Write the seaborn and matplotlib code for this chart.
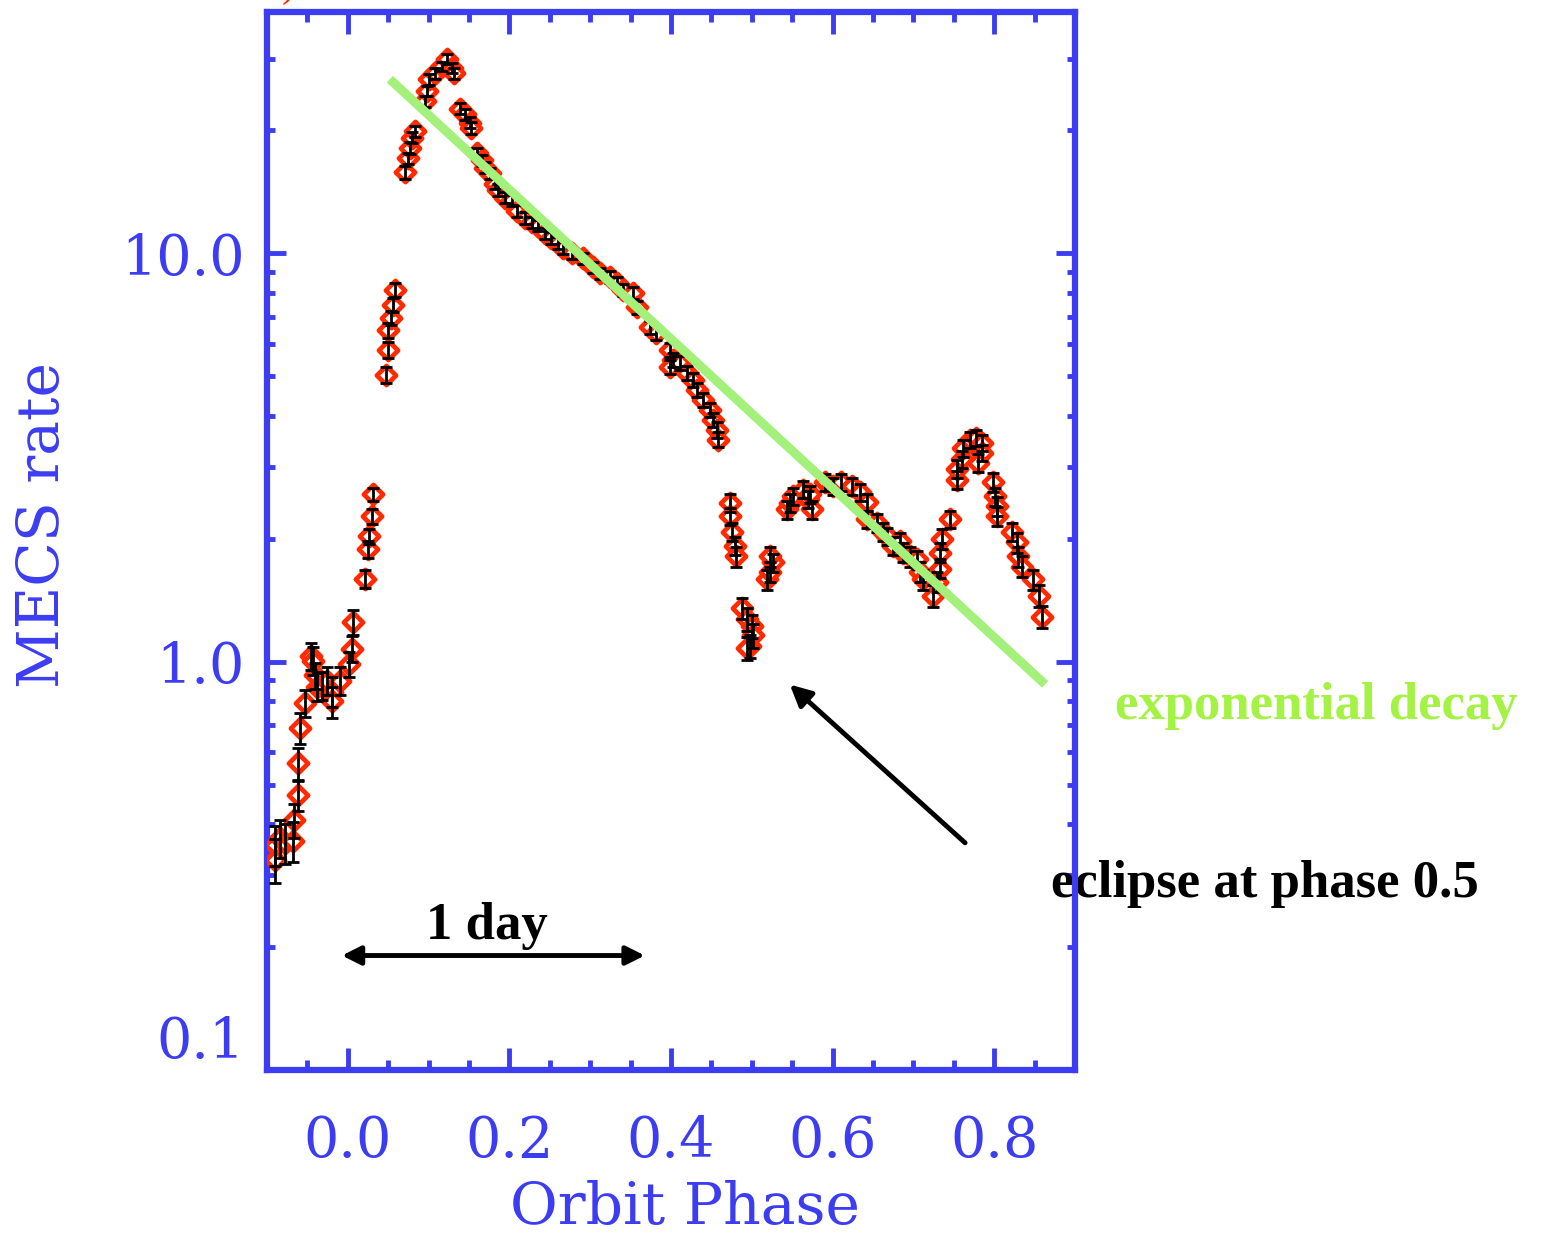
import numpy as np
import pandas as pd
import matplotlib
matplotlib.use("Agg")
import matplotlib.pyplot as plt
import seaborn as sns
from matplotlib.ticker import FixedLocator, LogLocator, MultipleLocator, NullFormatter, FixedFormatter

# ---- light curve: orbital phase vs MECS count rate ----
phase_pre = [-0.090, -0.090, -0.084, -0.078, -0.068, -0.066, -0.062, -0.062, -0.059, -0.053,
             -0.045, -0.043, -0.041, -0.038, -0.032, -0.026, -0.020, -0.019, -0.010, 0.002,
             0.005, 0.007, 0.021, 0.025, 0.026, 0.030, 0.031]
rate_pre = [0.356, 0.327, 0.370, 0.360, 0.364, 0.409, 0.471, 0.564, 0.687, 0.790,
            1.034, 1.006, 0.925, 0.869, 0.874, 0.899, 0.845, 0.799, 0.899, 0.989,
            1.076, 1.252, 1.593, 1.886, 2.029, 2.270, 2.570]
err_pre = [0.04, 0.04, 0.04, 0.04, 0.04, 0.04, 0.04, 0.05, 0.06, 0.06,
           0.08, 0.08, 0.07, 0.07, 0.07, 0.07, 0.07, 0.07, 0.07, 0.07,
           0.08, 0.09, 0.08, 0.09, 0.09, 0.10, 0.10]

phase_flare = [0.047, 0.050, 0.050, 0.053, 0.056, 0.058,
               0.071, 0.074, 0.077, 0.080, 0.083,
               0.095, 0.098, 0.101, 0.108, 0.116, 0.123, 0.129, 0.132,
               0.139, 0.145, 0.151, 0.153,
               0.160, 0.166, 0.170, 0.176, 0.182, 0.186, 0.194, 0.203, 0.210, 0.219,
               0.228, 0.235, 0.244, 0.252, 0.260, 0.266, 0.278, 0.291, 0.303, 0.312,
               0.324, 0.333, 0.340, 0.353, 0.358, 0.374, 0.382, 0.399, 0.402, 0.399,
               0.411, 0.420, 0.427, 0.432, 0.439, 0.448, 0.452, 0.457, 0.458]
rate_flare = [5.04, 5.80, 6.49, 6.94, 7.47, 8.13,
              15.8, 17.1, 18.1, 19.2, 19.9,
              23.6, 25.0, 26.7, 27.6, 28.7, 29.9, 28.4, 27.6,
              22.6, 21.9, 20.9, 20.3,
              17.6, 16.9, 16.2, 15.7, 14.8, 14.3, 13.7, 13.5, 12.7, 12.2,
              11.9, 11.7, 11.2, 10.9, 10.6, 10.3, 10.0, 9.72, 9.24, 8.93,
              8.74, 8.45, 8.13, 7.98, 7.38, 6.60, 6.38, 5.80, 5.48, 5.27,
              5.39, 5.10, 4.90, 4.63, 4.38, 4.14, 3.91, 3.70, 3.50]
err_flare = [0.22, 0.25, 0.28, 0.28, 0.30, 0.32,
             0.55, 0.55, 0.60, 0.60, 0.65,
             0.75, 0.75, 0.80, 0.80, 0.80, 0.85, 0.80, 0.80,
             0.70, 0.70, 0.65, 0.65,
             0.55, 0.55, 0.50, 0.50, 0.45, 0.45, 0.45, 0.42, 0.40, 0.40,
             0.38, 0.38, 0.36, 0.35, 0.34, 0.34, 0.33, 0.32, 0.30, 0.30,
             0.30, 0.28, 0.28, 0.27, 0.26, 0.24, 0.24, 0.22, 0.22, 0.21,
             0.21, 0.20, 0.20, 0.19, 0.18, 0.17, 0.16, 0.16, 0.15]

phase_late = [0.473, 0.473, 0.476, 0.479, 0.481,
              0.488, 0.494, 0.500, 0.501, 0.498, 0.494,
              0.519, 0.522, 0.526, 0.522,
              0.543, 0.547, 0.551, 0.563, 0.569, 0.575, 0.572,
              0.590, 0.600, 0.611, 0.624, 0.634, 0.642, 0.642, 0.655, 0.662, 0.667,
              0.675, 0.683, 0.687, 0.696, 0.704, 0.708, 0.712, 0.724,
              0.729, 0.733, 0.733, 0.736, 0.745,
              0.754, 0.754, 0.760, 0.761, 0.770, 0.778, 0.785, 0.785, 0.780,
              0.798, 0.801, 0.803, 0.804, 0.822, 0.828, 0.829, 0.834, 0.848, 0.856, 0.859]
rate_late = [2.45, 2.27, 2.08, 1.92, 1.81,
             1.35, 1.27, 1.22, 1.16, 1.09, 1.08,
             1.59, 1.66, 1.75, 1.81,
             2.36, 2.45, 2.54, 2.64, 2.50, 2.36, 2.57,
             2.75, 2.69, 2.75, 2.69, 2.60, 2.46, 2.23, 2.19, 2.08, 2.03,
             1.92, 1.97, 1.85, 1.81, 1.78, 1.66, 1.59, 1.45,
             1.57, 1.69, 1.85, 2.00, 2.23,
             2.79, 2.96, 3.13, 3.34, 3.50, 3.54, 3.44, 3.25, 3.07,
             2.75, 2.54, 2.40, 2.27, 2.08, 1.96, 1.81, 1.71, 1.59, 1.45, 1.29]
err_late = [0.12, 0.11, 0.11, 0.10, 0.10,
            0.08, 0.08, 0.08, 0.08, 0.07, 0.07,
            0.09, 0.09, 0.09, 0.10,
            0.12, 0.12, 0.12, 0.13, 0.12, 0.12, 0.12,
            0.13, 0.13, 0.13, 0.13, 0.12, 0.12, 0.11, 0.11, 0.11, 0.10,
            0.10, 0.10, 0.10, 0.10, 0.09, 0.09, 0.09, 0.09,
            0.09, 0.09, 0.10, 0.11, 0.11,
            0.14, 0.15, 0.15, 0.16, 0.16, 0.16, 0.16, 0.15, 0.15,
            0.14, 0.13, 0.13, 0.12, 0.11, 0.11, 0.10, 0.10, 0.09, 0.09, 0.08]

# exponential decay fit (straight line in log space)
fit_phase = [0.052, 0.863]
fit_rate = [26.7, 0.88]

x_ticks = [0.0, 0.2, 0.4, 0.6, 0.8]
x_tick_labels = ["0.0", "0.2", "0.4", "0.6", "0.8"]
y_ticks = [0.1, 1.0, 10.0]
y_tick_labels = ["0.1", "1.0", "10.0"]

BLUE = "#3c3cf2"
RED = "#ff2a00"
GREEN_LINE = "#a3f07a"
GREEN_TEXT = "#a4f244"

df = pd.DataFrame({
    "phase": phase_pre + phase_flare + phase_late,
    "rate": rate_pre + rate_flare + rate_late,
    "err": err_pre + err_flare + err_late,
})

sns.set_theme(style="ticks", rc={
    "xtick.direction": "in", "ytick.direction": "in",
    "xtick.bottom": True, "xtick.top": True,
    "ytick.left": True, "ytick.right": True,
})
plt.rcParams["font.family"] = ["DejaVu Serif"]

fig = plt.figure(figsize=(15.41, 12.33), dpi=100)
ax = fig.add_axes([267 / 1541, 1 - 1070 / 1233, 808 / 1541, 1058 / 1233])

sns.scatterplot(data=df, x="phase", y="rate", ax=ax, marker="D", s=95,
                facecolor="white", edgecolor=RED, linewidth=3.4, zorder=3, legend=False)
ax.set_yscale("log")
ax.set_xlim(-0.1, 0.9)
ax.set_ylim(0.1, 39)

ax.errorbar(df["phase"], df["rate"], yerr=df["err"], fmt="none", ecolor="black",
            elinewidth=2.0, capsize=4.5, capthick=2.0, zorder=4)
ax.plot(fit_phase, fit_rate, color=GREEN_LINE, lw=6.5, solid_capstyle="butt", zorder=5)

ax.xaxis.set_major_locator(FixedLocator(x_ticks))
ax.xaxis.set_major_formatter(FixedFormatter(x_tick_labels))
ax.xaxis.set_minor_locator(MultipleLocator(0.05))
ax.yaxis.set_major_locator(FixedLocator(y_ticks))
ax.yaxis.set_major_formatter(FixedFormatter(y_tick_labels))
ax.yaxis.set_minor_locator(LogLocator(base=10, subs=np.arange(2, 10)))
ax.yaxis.set_minor_formatter(NullFormatter())

ax.tick_params(which="both", direction="in", bottom=True, left=True, top=True, right=True,
               color=BLUE, width=3.5)
ax.tick_params(axis="x", which="major", length=16, pad=32, labelsize=40, labelcolor=BLUE)
ax.tick_params(axis="x", which="minor", length=7)
ax.tick_params(axis="y", which="major", length=14, pad=16, labelsize=40, labelcolor=BLUE)
ax.tick_params(axis="y", which="minor", length=5.5)

for side in ax.spines.values():
    side.set_color(BLUE)
    side.set_linewidth(4.5)

ax.set_xlabel("Orbit Phase", fontsize=42, color=BLUE)
ax.set_ylabel("MECS rate", fontsize=42, color=BLUE)
ax.xaxis.set_label_coords(0.517, -0.104)
ax.xaxis.label.set_verticalalignment("top")
ax.yaxis.set_label_coords(-0.242, 0.515)
for lab in ax.get_yticklabels():
    if lab.get_text() == "0.1":
        lab.set_verticalalignment("bottom")

serif_bold = dict(family=["Liberation Serif", "DejaVu Serif"], weight="bold", fontsize=38)

# one-day scale bar
ax.annotate("", xy=(-0.0074, 0.1907), xytext=(0.3676, 0.1907),
            arrowprops=dict(arrowstyle="<|-|>", color="black", lw=3.5, mutation_scale=28,
                            shrinkA=0, shrinkB=0), zorder=6)
ax.text(0.172, 0.209, "1 day", ha="center", va="baseline", color="black", **serif_bold)

# eclipse pointer
ax.annotate("", xy=(0.547, 0.879), xytext=(0.764, 0.360),
            arrowprops=dict(arrowstyle="-|>", color="black", lw=3.5, mutation_scale=32,
                            shrinkA=0, shrinkB=0), annotation_clip=False, zorder=6)
ax.text(0.870, 0.266, "eclipse at phase 0.5", ha="left", va="baseline", color="black",
        clip_on=False, zorder=1, **serif_bold)
ax.text(0.949, 0.725, "exponential decay", ha="left", va="baseline", color=GREEN_TEXT,
        clip_on=False, zorder=1, **serif_bold)

fig.text(0.183, 0.996, ")", color=RED, fontsize=30, ha="left", va="bottom",
         family=["Liberation Serif", "DejaVu Serif"])

fig.savefig("out.png", dpi=100, facecolor="white")
